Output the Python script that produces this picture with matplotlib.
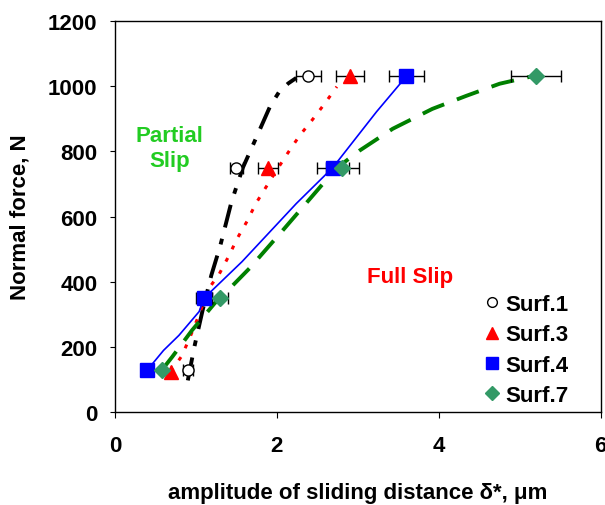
import matplotlib
matplotlib.use("Agg")
import matplotlib.pyplot as plt
from matplotlib.lines import Line2D

plt.rcParams['font.family'] = ['Liberation Sans', 'DejaVu Sans']
plt.rcParams['font.weight'] = 'bold'

# Measured points (delta*, um ; normal force, N) with x error
s1_x = [0.90, 1.50, 2.39]
s1_y = [130, 750, 1030]
s1_err = [0.06, 0.08, 0.15]

s3_x = [0.69, 1.89, 2.90]
s3_y = [125, 750, 1030]
s3_err = [0.0, 0.12, 0.17]

s4_x = [0.40, 1.10, 2.69, 3.60]
s4_y = [130, 350, 750, 1030]
s4_err = [0.0, 0.10, 0.20, 0.22]

s7_x = [0.58, 1.30, 2.81, 5.20]
s7_y = [130, 350, 750, 1030]
s7_err = [0.0, 0.10, 0.20, 0.31]

# Trend curves
c1_x = [0.90, 0.98, 1.08, 1.19, 1.30, 1.44, 1.58, 1.74, 1.92, 2.03, 2.14, 2.24]
c1_y = [98, 200, 310, 420, 510, 646, 750, 839, 940, 983, 1008, 1025]

c3_x = [0.69, 0.82, 0.92, 1.04, 1.16, 1.29, 1.41, 1.51, 1.63, 1.74, 1.94, 2.13, 2.28, 2.43, 2.59, 2.74]
c3_y = [125, 171, 226, 300, 380, 425, 481, 533, 585, 640, 720, 793, 848, 894, 946, 998]

c4_x = [0.40, 0.60, 0.79, 1.04, 1.10, 1.57, 2.24, 2.69, 3.23, 3.60]
c4_y = [130, 190, 236, 309, 350, 462, 640, 750, 921, 1030]

c7_x = [0.58, 0.71, 0.95, 1.23, 1.30, 1.66, 2.07, 2.24, 2.73, 3.02, 3.43, 3.92, 4.34, 4.75, 5.12, 5.20]
c7_y = [130, 171, 251, 334, 350, 441, 557, 606, 747, 802, 869, 930, 970, 1007, 1028, 1030]

x_ticks = [0, 2, 4, 6]
y_ticks = [0, 200, 400, 600, 800, 1000, 1200]

FS = 16

fig = plt.figure(figsize=(6.05, 5.06), dpi=100)
ax = fig.add_axes([0.190, 0.183, 0.803, 0.774])

ax.plot(c1_x, c1_y, color='black', lw=2.8, dashes=(6, 3, 1.5, 3), zorder=2)
ax.plot(c3_x, c3_y, color='#ff0000', lw=2.2, dashes=(1.3, 3.2), zorder=2)
ax.plot(c4_x, c4_y, color='#0000ff', lw=1.2, zorder=2)
ax.plot(c7_x, c7_y, color='#008000', lw=2.8, dashes=(6, 3.5), zorder=2)

eb = dict(ls='none', ecolor='black', elinewidth=1.0, capsize=4, capthick=1.0, zorder=3)
ax.errorbar(s1_x, s1_y, xerr=s1_err, marker='o', ms=8, mfc='white', mec='black', mew=1.0, **eb)
ax.errorbar(s3_x, s3_y, xerr=s3_err, marker='^', ms=10, mfc='#ff0000', mec='#ff0000', **eb)
ax.errorbar(s4_x, s4_y, xerr=s4_err, marker='s', ms=9.5, mfc='#0000ff', mec='#0000ff', **eb)
ax.errorbar(s7_x, s7_y, xerr=s7_err, marker='D', ms=8.5, mfc='#339966', mec='#339966', **eb)

ax.set_xlim(0, 6)
ax.set_ylim(0, 1200)
ax.set_xticks(x_ticks)
ax.set_yticks(y_ticks)
ax.tick_params(axis='x', direction='out', length=4, pad=12, labelsize=FS)
ax.tick_params(axis='y', direction='out', length=3.5, pad=9, labelsize=FS)
for lab in ax.get_xticklabels() + ax.get_yticklabels():
    lab.set_fontweight('bold')
for sp in ax.spines.values():
    sp.set_linewidth(1.0)

ax.set_xlabel('amplitude of sliding distance δ*, μm', fontsize=FS, fontweight='bold', va='center')
ax.xaxis.set_label_coords(0.5, -0.204)
ax.set_ylabel('Normal force, N', fontsize=FS, fontweight='bold', va='center')
ax.yaxis.set_label_coords(-0.195, 0.5)

ax.text(0.67, 810, 'Partial\nSlip', color='#22cc22', fontsize=FS, fontweight='bold',
        ha='center', va='center', linespacing=1.2)
ax.text(3.64, 415, 'Full Slip', color='#ff0000', fontsize=FS, fontweight='bold',
        ha='center', va='center')

handles = [
    Line2D([], [], ls='none', marker='o', ms=7, mfc='white', mec='black', mew=1.0),
    Line2D([], [], ls='none', marker='^', ms=9, mfc='#ff0000', mec='#ff0000'),
    Line2D([], [], ls='none', marker='s', ms=8, mfc='#0000ff', mec='#0000ff'),
    Line2D([], [], ls='none', marker='D', ms=7.5, mfc='#339966', mec='#339966'),
]
ax.legend(handles, ['Surf.1', 'Surf.3', 'Surf.4', 'Surf.7'], loc='upper left',
          bbox_to_anchor=(0.753, 0.302), frameon=False, handlelength=1.0,
          handletextpad=0.1, labelspacing=0.42, borderaxespad=0.0, borderpad=0.0,
          prop={'weight': 'bold', 'size': FS})

fig.savefig('out.png', dpi=100)
